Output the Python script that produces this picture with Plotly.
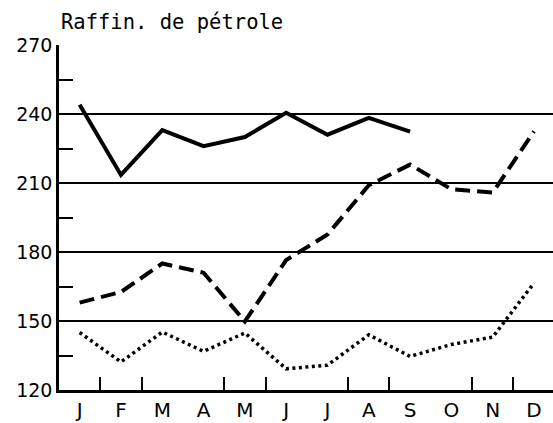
import plotly.graph_objects as go

months = ["J", "F", "M", "A", "M", "J", "J", "A", "S", "O", "N", "D"]
x_pos = [i + 0.5 for i in range(12)]

solid_vals = [244, 213.5, 233, 226, 230, 240.5, 231, 238.3, 232.3]
dashed_vals = [158, 162.6, 175, 171, 149.8, 176.5, 187.6, 209, 218, 207.3, 205.8, 232.4]
dotted_vals = [145, 132.2, 145.2, 136.8, 144.8, 129.2, 130.8, 144, 134.6, 139.8, 143, 166.5]

y_labels = [120, 150, 180, 210, 240, 270]
y_minor = [135, 165, 195, 225, 255]
x_minor = [1, 2, 4, 5, 7, 8, 10, 11]
x_grid = [3, 6, 9]

title_text = "Raffin. de pétrole"

FONT = "DejaVu Sans Mono"
XR = [0, 11.96]
YR = [120, 270]

fig = go.Figure()
fig.add_trace(go.Scatter(x=x_pos[:len(solid_vals)], y=solid_vals, mode="lines",
                         line=dict(color="black", width=4), name="série 1"))
fig.add_trace(go.Scatter(x=x_pos, y=dashed_vals, mode="lines",
                         line=dict(color="black", width=4, dash="15px,7px"), name="série 2"))
fig.add_trace(go.Scatter(x=x_pos, y=dotted_vals, mode="lines",
                         line=dict(color="black", width=3.5, dash="3px,3.5px"), name="série 3"))

fig.update_layout(
    width=553, height=423, autosize=False,
    margin=dict(l=59, r=0, t=45, b=33, pad=0),
    paper_bgcolor="white", plot_bgcolor="white",
    showlegend=False,
    font=dict(family=FONT, color="black", size=19),
    title=dict(text=title_text, xref="container", yref="container",
               x=61 / 553, xanchor="left", y=1 - 29 / 423, yanchor="bottom",
               font=dict(family=FONT, size=20.5, color="black")),
    xaxis=dict(range=XR, tickmode="array", tickvals=x_pos, ticktext=months,
               ticks="", showgrid=False, zeroline=False,
               showline=True, linecolor="black", linewidth=2.5,
               tickfont=dict(family="DejaVu Sans", size=20),
               minor=dict(tickmode="array", tickvals=x_minor, ticks="inside",
                          ticklen=13, tickwidth=2, tickcolor="black", showgrid=False)),
    xaxis2=dict(range=XR, overlaying="x", anchor="y", side="top",
                tickmode="array", tickvals=x_minor, ticks="inside", ticklen=15,
                tickwidth=2, tickcolor="black", showticklabels=False,
                showline=True, linecolor="black", linewidth=2.5, zeroline=False,
                showgrid=False,
                minor=dict(tickmode="array", tickvals=x_grid, ticks="",
                           showgrid=True, gridcolor="black", gridwidth=2)),
    yaxis=dict(range=YR, tickmode="array", tickvals=y_labels,
               ticktext=[str(v) for v in y_labels], ticks="",
               showgrid=True, gridcolor="black", gridwidth=2, zeroline=False,
               showline=True, linecolor="black", linewidth=2.5,
               tickfont=dict(family="DejaVu Sans", size=19),
               minor=dict(tickmode="array", tickvals=y_minor, ticks="inside",
                          ticklen=14, tickwidth=2, tickcolor="black", showgrid=False)),
    yaxis2=dict(range=YR, overlaying="y", anchor="x", side="right",
                tickmode="array", tickvals=y_minor, ticks="inside", ticklen=10,
                tickwidth=2, tickcolor="black", showticklabels=False,
                showline=False, showgrid=False, zeroline=False),
)

fig.write_html("out.html", config={"displayModeBar": False},
               post_script="document.body.style.margin='0';document.body.style.overflow='hidden';")
